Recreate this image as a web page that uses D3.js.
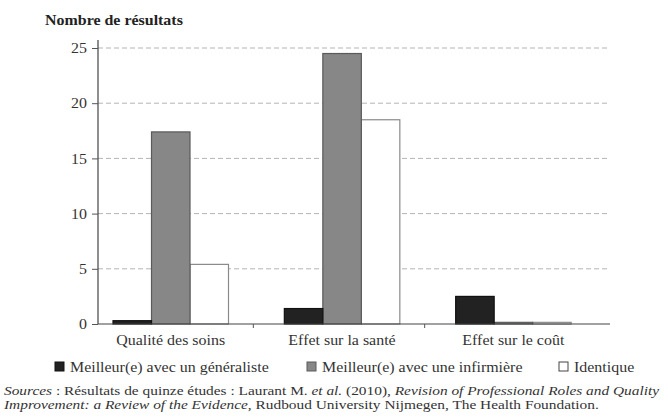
<!DOCTYPE html>
<html>
<head>
<meta charset="utf-8">
<script src="https://cdn.jsdelivr.net/npm/d3@7"></script>
<style>
  html, body { margin: 0; padding: 0; background: #fff; }
  svg { display: block; }
</style>
</head>
<body>
<svg id="chart" width="668" height="417"></svg>
<script>
// Outcome categories compared across fifteen studies
const categories = ["Qualité des soins", "Effet sur la santé", "Effet sur le coût"];
const seriesNames = ["Meilleur(e) avec un généraliste", "Meilleur(e) avec une infirmière", "Identique"];
const generaliste = [0.3, 1.4, 2.5];
const infirmiere = [17.4, 24.5, 0.15];
const identique = [5.4, 18.5, 0.15];
const yTicks = [0, 5, 10, 15, 20, 25];
const yTitle = "Nombre de résultats";

const seriesValues = [generaliste, infirmiere, identique];
const fills = ["#222222", "#878787", "#ffffff"];
const strokes = ["#111111", "#5a5a5a", "#8a8a8a"];

const FONT = '"Liberation Serif"';
const TEXT = "#333";
const fs = 14.5;
const sx = 1.1; // slightly wide setting of the serif face

const svg = d3.select("#chart");

// places a text at (x, y) with the wide horizontal setting
function place(sel, x, y, k = sx) {
  return sel.attr("transform", `translate(${x},${y}) scale(${k},1)`);
}

const y = d3.scaleLinear().domain([0, 25]).range([324, 48]);
const x0 = d3.scaleBand().domain(categories).range([82, 596]).padding(0);
const x1 = d3.scaleBand().domain(d3.range(seriesNames.length)).range([31, 146.5]).padding(0);

const axisLeft = 98, axisRight = 610;

// dashed horizontal gridlines
svg.append("g").selectAll("line")
  .data(yTicks.filter(d => d > 0))
  .join("line")
  .attr("x1", axisLeft).attr("x2", axisRight)
  .attr("y1", d => y(d)).attr("y2", d => y(d))
  .attr("stroke", "#b4b4b4")
  .attr("stroke-width", 1)
  .attr("stroke-dasharray", "5,3");

// bars (drawn right to left so neighbouring outlines overlap cleanly)
const groups = svg.append("g").selectAll("g")
  .data(categories)
  .join("g")
  .attr("transform", d => `translate(${x0(d)},0)`);

groups.selectAll("rect")
  .data((c, ci) => seriesValues.map((vals, si) => ({ si, v: vals[ci] })).reverse())
  .join("rect")
  .attr("x", d => x1(d.si))
  .attr("width", x1.bandwidth())
  .attr("y", d => y(d.v))
  .attr("height", d => y(0) - y(d.v))
  .attr("fill", d => fills[d.si])
  .attr("stroke", d => strokes[d.si])
  .attr("stroke-width", 1.2);

// y axis
const yAxis = d3.axisLeft(y).tickValues(yTicks).tickSize(6).tickPadding(4).tickFormat(d3.format("d"));
const gy = svg.append("g").attr("transform", `translate(${axisLeft},0)`).call(yAxis);
gy.attr("font-family", null).attr("font-size", null);
gy.select(".domain").attr("d", `M0,${y(0)}V40`).attr("stroke", "#444").attr("stroke-width", 1.2);
gy.selectAll(".tick line").attr("stroke", "#555");
gy.selectAll(".tick text")
  .attr("font-size", fs).attr("font-family", FONT).attr("fill", TEXT)
  .attr("transform", `scale(${sx},1)`);

// x axis baseline
svg.append("line")
  .attr("x1", axisLeft).attr("x2", axisRight)
  .attr("y1", y(0)).attr("y2", y(0))
  .attr("stroke", "#444").attr("stroke-width", 1.2);

// ticks between categories
svg.append("g").selectAll("line")
  .data(categories.slice(1))
  .join("line")
  .attr("x1", d => x0(d)).attr("x2", d => x0(d))
  .attr("y1", y(0)).attr("y2", y(0) + 4)
  .attr("stroke", "#555");

// category labels
svg.append("g").selectAll("text")
  .data(categories)
  .join("text")
  .each(function (d) { place(d3.select(this), x0(d) + x0.bandwidth() / 2 + 3, 345); })
  .attr("text-anchor", "middle")
  .attr("font-family", FONT)
  .attr("font-size", fs)
  .attr("fill", TEXT)
  .text(d => d);

// y title
place(svg.append("text"), 45, 25)
  .attr("font-family", FONT)
  .attr("font-size", fs)
  .attr("font-weight", "bold")
  .attr("fill", "#222")
  .text(yTitle);

// legend
const legendX = [55, 307, 559];
const lg = svg.append("g").selectAll("g")
  .data(seriesNames)
  .join("g")
  .attr("transform", (d, i) => `translate(${legendX[i]},362)`);
lg.append("rect")
  .attr("width", 9).attr("height", 9)
  .attr("fill", (d, i) => fills[i])
  .attr("stroke", (d, i) => i === 2 ? "#444" : strokes[i])
  .attr("stroke-width", 1);
lg.append("text")
  .each(function () { place(d3.select(this), 15, 10); })
  .attr("font-family", FONT)
  .attr("font-size", fs)
  .attr("fill", TEXT)
  .text(d => d);

// source note
const srcFs = 12.5, srcSx = 1.23;
const src1 = place(svg.append("text"), 4, 395, srcSx)
  .attr("font-family", FONT).attr("font-size", srcFs).attr("fill", TEXT);
src1.append("tspan").attr("font-style", "italic").text("Sources");
src1.append("tspan").text(" : Résultats de quinze études : Laurant M. ");
src1.append("tspan").attr("font-style", "italic").text("et al.");
src1.append("tspan").text(" (2010), ");
src1.append("tspan").attr("font-style", "italic").text("Revision of Professional Roles and Quality");

const src2 = place(svg.append("text"), 4, 409, srcSx)
  .attr("font-family", FONT).attr("font-size", srcFs).attr("fill", TEXT);
src2.append("tspan").attr("font-style", "italic").text("Improvement: a Review of the Evidence");
src2.append("tspan").text(", Rudboud University Nijmegen, The Health Foundation.");
</script>
</body>
</html>
